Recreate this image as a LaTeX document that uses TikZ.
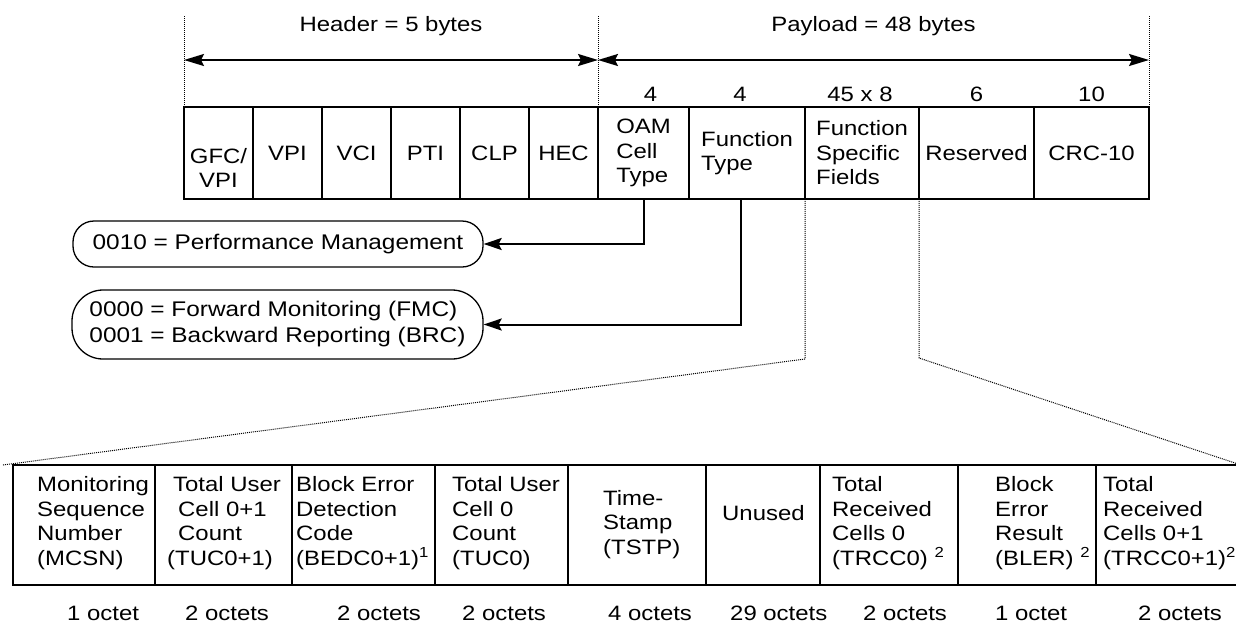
\documentclass[tikz,border=0pt]{standalone}
\usepackage{fontspec}
\setmainfont{Liberation Sans}[FakeStretch=1.15]
\usepackage{tikz}
\usetikzlibrary{arrows.meta,positioning}

\newcommand{\cellfont}{\fontsize{20.8pt}{24.5pt}\selectfont}
\newcommand{\pillfont}{\fontsize{21.2pt}{26pt}\selectfont}

\begin{document}
\begin{tikzpicture}[
  x=1pt, y=-1pt,
  font=\cellfont,
  field/.style={draw, line width=2pt, minimum height=92pt, inner sep=0pt, outer sep=0pt, align=center},
  octcell/.style={draw, line width=2pt, minimum height=120pt, inner sep=0pt, outer sep=0pt},
  celltext/.style={align=left, inner sep=0pt, anchor=base west},
  octet/.style={inner sep=0pt, anchor=base west},
  bits/.style={inner sep=0pt, label distance=5pt},
  pill/.style={draw, line width=1.3pt, align=left, inner sep=0pt, font=\pillfont},
  guide/.style={line width=1pt, dash pattern=on 1pt off 1pt},
  dim/.style={{Stealth[length=20pt,width=12pt,inset=3pt]}-{Stealth[length=20pt,width=12pt,inset=3pt]}, line width=2pt},
  ptr/.style={-{Stealth[length=18pt,width=12pt,inset=3pt]}, line width=2pt}
]
  \useasboundingbox (0,0) rectangle (1236,622);
  \clip (0,0) rectangle (1236,622);

  % ATM cell: header and payload fields
  \node[field, minimum width=69pt, anchor=north west] (gfc) at (184,107) {\mbox{}\\[20pt]GFC/\\VPI};
  \node[field, minimum width=69pt, right=0pt of gfc] (vpi) {VPI};
  \node[field, minimum width=69pt, right=0pt of vpi] (vci) {VCI};
  \node[field, minimum width=69pt, right=0pt of vci] (pti) {PTI};
  \node[field, minimum width=69pt, right=0pt of pti] (clp) {CLP};
  \node[field, minimum width=69pt, right=0pt of clp] (hec) {HEC};
  \node[field, minimum width=91pt, right=0pt of hec, align=left, label={[bits, xshift=7pt]above:4}] (oam) {OAM\\Cell\\Type};
  \node[field, minimum width=116pt, right=0pt of oam, align=left, label={[bits, xshift=-7pt]above:4}] (ftype) {Function\\Type};
  \node[field, minimum width=114pt, right=0pt of ftype, align=left, label={[bits, xshift=-2pt]above:45 x 8}] (fsf) {Function\\Specific\\Fields};
  \node[field, minimum width=115pt, right=0pt of fsf, label={[bits]above:6}] (rsv) {Reserved};
  \node[field, minimum width=115pt, right=0pt of rsv, label={[bits]above:10}] (crc) {CRC-10};

  \draw[guide] (gfc.north west) -- ++(0,-92);
  \draw[guide] (hec.north east) -- ++(0,-92);
  \draw[guide] (crc.north east) -- ++(0,-92);
  \draw[dim] ([yshift=47pt]gfc.north west) -- node[above=23pt, inner sep=0pt] (hdr) {Header = 5 bytes} ([yshift=47pt]hec.north east);
  \draw[dim] ([yshift=47pt]oam.north west) -- node[above=23pt, inner sep=0pt] (pay) {Payload = 48 bytes} ([yshift=47pt]crc.north east);

  % code points
  \node[pill, minimum width=410pt, minimum height=46pt, rounded corners=21pt] (pm) at (278,244) {0010 = Performance Management};
  \node[pill, minimum width=411pt, minimum height=69pt, rounded corners=31pt] (fb) at (277.5,324.5) {0000 = Forward Monitoring (FMC)\\0001 = Backward Reporting (BRC)};
  \draw[ptr] (oam.south) |- (pm.east);
  \draw[ptr] ([xshift=-6pt]ftype.south) |- (fb.east);

  % function specific fields, expanded
  \node[octcell, minimum width=142pt, anchor=north west] (mcsn) at (13,465) {};
  \node[octcell, minimum width=137pt, right=0pt of mcsn] (tucall) {};
  \node[octcell, minimum width=143pt, right=0pt of tucall] (bedc) {};
  \node[octcell, minimum width=133pt, right=0pt of bedc] (tuc) {};
  \node[octcell, minimum width=138pt, right=0pt of tuc] (tstp) {};
  \node[octcell, minimum width=114pt, right=0pt of tstp] (unused) {};
  \node[octcell, minimum width=138pt, right=0pt of unused] (trcc) {};
  \node[octcell, minimum width=138pt, right=0pt of trcc] (bler) {};
  \node[octcell, minimum width=145pt, right=0pt of bler] (trccall) {};

  \node[celltext] (mcsn-t) at ([shift={(24pt,-100pt)}]mcsn.north west) {Monitoring\\Sequence\\Number\\(MCSN)};
  \node[celltext] (tucall-t) at ([shift={(12pt,-100pt)}]tucall.north west) {\hspace*{6pt}Total User\\\hspace*{11pt}Cell 0+1\\\hspace*{11pt}Count\\(TUC0+1)};
  \node[celltext] (bedc-t) at ([shift={(4pt,-100pt)}]bedc.north west) {Block Error\\Detection\\Code\\(BEDC0+1)\textsuperscript{1}};
  \node[celltext] (tuc-t) at ([shift={(17pt,-100pt)}]tuc.north west) {Total User\\Cell 0\\Count\\(TUC0)};
  \node[celltext] (tstp-t) at ([shift={(35pt,-89pt)}]tstp.north west) {Time-\\Stamp\\(TSTP)};
  \node[celltext] (unused-t) at ([shift={(16pt,-55pt)}]unused.north west) {Unused};
  \node[celltext] (trcc-t) at ([shift={(12pt,-100pt)}]trcc.north west) {Total\\Received\\Cells 0\\(TRCC0) \textsuperscript{2}};
  \node[celltext] (bler-t) at ([shift={(37pt,-100pt)}]bler.north west) {Block\\Error\\Result\\(BLER) \textsuperscript{2}};
  \node[celltext] (trccall-t) at ([shift={(7pt,-100pt)}]trccall.north west) {Total\\Received\\Cells 0+1\\(TRCC0+1)\textsuperscript{2}};

  \node[octet] (o1) at (67,620) {1 octet};
  \node[octet] (o2) at (185,620) {2 octets};
  \node[octet] (o3) at (337,620) {2 octets};
  \node[octet] (o4) at (462,620) {2 octets};
  \node[octet] (o5) at (608,620) {4 octets};
  \node[octet] (o6) at (730,620) {29 octets};
  \node[octet] (o7) at (863,620) {2 octets};
  \node[octet] (o8) at (995,620) {1 octet};
  \node[octet] (o9) at (1138,620) {2 octets};

  \draw[guide] (fsf.south west) -- ++(0,160) -- ([xshift=-10pt]mcsn.north west);
  \draw[guide] (fsf.south east) -- ++(0,159) -- (trccall.north east);
\end{tikzpicture}
\end{document}
